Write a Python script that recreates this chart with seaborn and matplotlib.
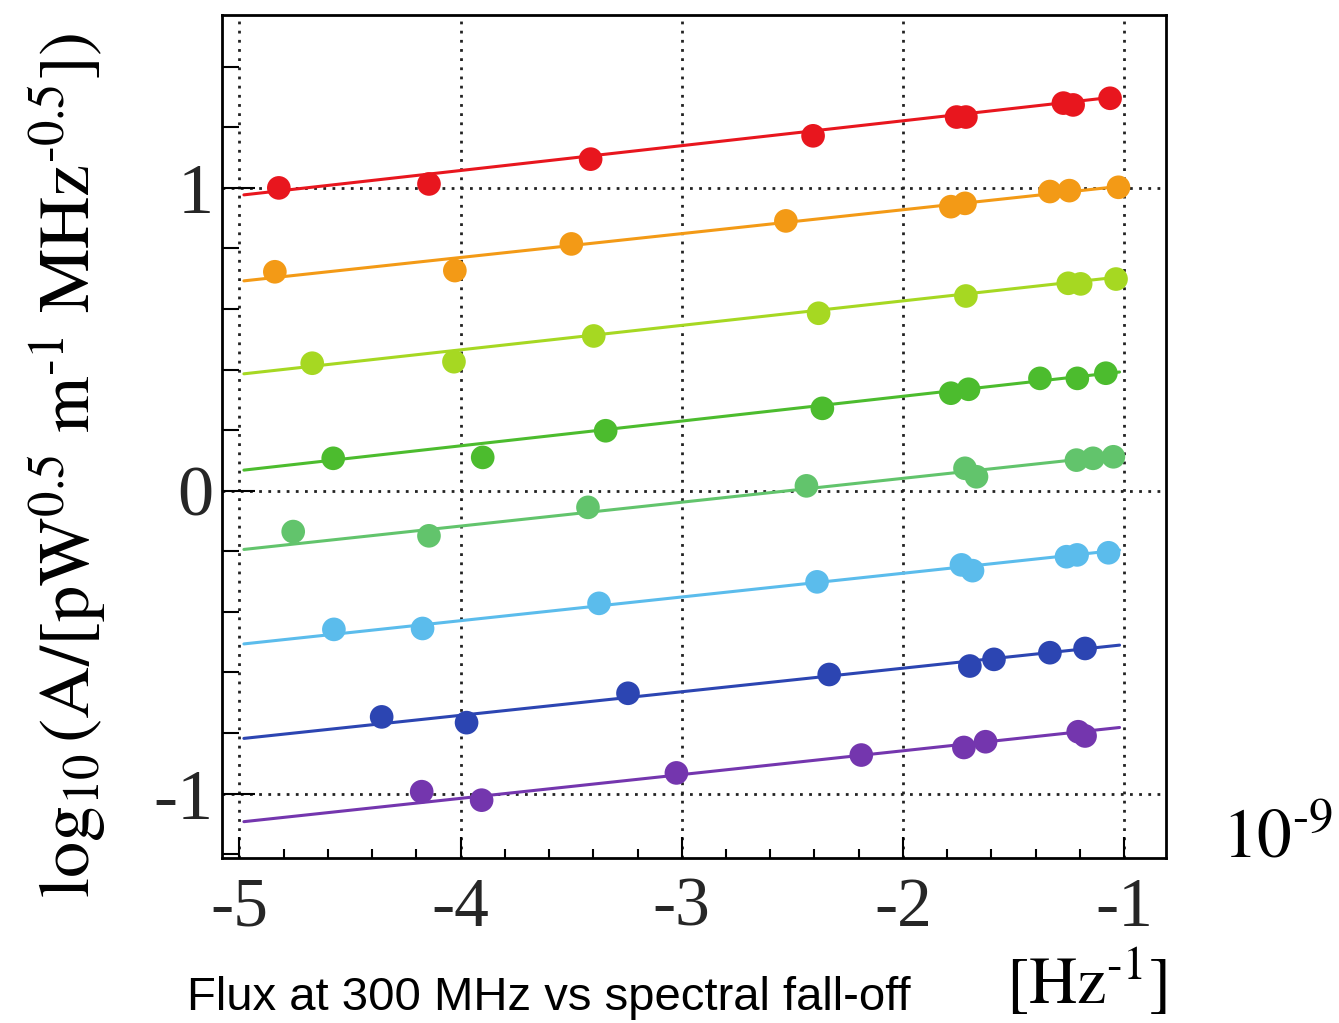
import numpy as np
import pandas as pd
import matplotlib
matplotlib.use("Agg")
import matplotlib.pyplot as plt
from matplotlib.ticker import MultipleLocator, FixedLocator
import seaborn as sns

# ---------------- data ----------------
series_names = ["red", "orange", "lime", "green", "mint", "sky", "navy", "purple"]
series_colors = ["#e8161e", "#f39a16", "#a6d822", "#4cbc2e", "#62c46c", "#5bbcec", "#2c45b2", "#7436ae"]

x_red = [-4.822, -4.143, -3.412, -2.406, -1.757, -1.715, -1.274, -1.230, -1.063]
y_red = [1.000, 1.013, 1.095, 1.172, 1.234, 1.234, 1.280, 1.274, 1.296]

x_orange = [-4.840, -4.026, -3.499, -2.529, -1.783, -1.719, -1.335, -1.247, -1.025]
y_orange = [0.723, 0.727, 0.815, 0.891, 0.938, 0.949, 0.988, 0.991, 1.002]

x_lime = [-4.671, -4.030, -3.398, -2.381, -1.715, -1.252, -1.196, -1.036]
y_lime = [0.421, 0.426, 0.511, 0.586, 0.643, 0.685, 0.683, 0.699]

x_green = [-4.576, -3.900, -3.344, -2.364, -1.783, -1.703, -1.380, -1.211, -1.082]
y_green = [0.107, 0.110, 0.198, 0.272, 0.322, 0.335, 0.371, 0.371, 0.388]

x_mint = [-4.757, -4.143, -3.424, -2.436, -1.719, -1.667, -1.215, -1.140, -1.048]
y_mint = [-0.135, -0.149, -0.055, 0.016, 0.074, 0.046, 0.101, 0.107, 0.112]

x_sky = [-4.573, -4.172, -3.374, -2.388, -1.735, -1.685, -1.260, -1.212, -1.070]
y_sky = [-0.458, -0.455, -0.372, -0.301, -0.245, -0.264, -0.218, -0.212, -0.205]

x_navy = [-4.357, -3.973, -3.243, -2.333, -1.697, -1.588, -1.335, -1.176]
y_navy = [-0.747, -0.766, -0.669, -0.607, -0.579, -0.557, -0.535, -0.521]

x_purple = [-4.176, -3.905, -3.024, -2.188, -1.724, -1.626, -1.207, -1.176]
y_purple = [-0.994, -1.022, -0.932, -0.873, -0.848, -0.829, -0.796, -0.810]

# fitted straight lines: values at the two ends
fit_x = [-4.98, -1.02]
fit_left = [0.977, 0.693, 0.386, 0.068, -0.194, -0.506, -0.818, -1.093]
fit_right = [1.302, 1.005, 0.706, 0.392, 0.118, -0.196, -0.510, -0.782]

x_ticks = [-5, -4, -3, -2, -1]
x_ticklabels = ["-5", "-4", "-3", "-2", "-1"]
y_ticks = [-1, 0, 1]
y_ticklabels = ["-1", "0", "1"]

xlabel_text = "Flux at 300 MHz vs spectral fall-off"
ylabel_text = r"$\log_{10}(\mathrm{A/[pW^{0.5}\ m^{\text{-}1}\ MHz^{\text{-}0.5}]})$"
xunit_text = r"$[\mathrm{Hz}^{\text{-}1}]$"
xexp_text = r"$10^{\text{-}9}$"

# ---------------- build tables ----------------
xs = [x_red, x_orange, x_lime, x_green, x_mint, x_sky, x_navy, x_purple]
ys = [y_red, y_orange, y_lime, y_green, y_mint, y_sky, y_navy, y_purple]
pts = pd.concat([pd.DataFrame({"x": x, "y": y, "series": n})
                 for n, x, y in zip(series_names, xs, ys)], ignore_index=True)
fits = pd.concat([pd.DataFrame({"x": fit_x, "y": [l, r], "series": n})
                  for n, l, r in zip(series_names, fit_left, fit_right)], ignore_index=True)
palette = dict(zip(series_names, series_colors))

# ---------------- style ----------------
sns.set_theme(style="white")
plt.rcParams["font.family"] = ["Liberation Serif", "DejaVu Serif"]
plt.rcParams["mathtext.fontset"] = "stix"
plt.rcParams["axes.unicode_minus"] = False

W, H = 1339, 1023
fig = plt.figure(figsize=(W / 100, H / 100), dpi=100)
fig.patch.set_facecolor("white")
L, R, T, B = 222, 1166, 15, 858
ax = fig.add_axes([L / W, 1 - B / H, (R - L) / W, (B - T) / H])
ax.set_facecolor("white")

sns.lineplot(data=fits, x="x", y="y", hue="series", palette=palette,
             estimator=None, sort=False, linewidth=2.2, legend=False, ax=ax, zorder=2)
sns.scatterplot(data=pts, x="x", y="y", hue="series", palette=palette,
                s=290, linewidth=0, edgecolor="none", legend=False, ax=ax, zorder=3)

ax.set_xlim(-5.079, -0.81)
ax.set_ylim(-1.213, 1.571)
ax.set_xlabel("")
ax.set_ylabel("")

ax.xaxis.set_major_locator(FixedLocator(x_ticks))
ax.set_xticklabels(x_ticklabels)
ax.yaxis.set_major_locator(FixedLocator(y_ticks))
ax.set_yticklabels(y_ticklabels)
ax.xaxis.set_minor_locator(MultipleLocator(0.2))
ax.yaxis.set_minor_locator(MultipleLocator(0.2))

ax.tick_params(axis="both", which="both", direction="in", top=False, right=False,
               left=True, bottom=True, color="black", width=1.5)
ax.tick_params(axis="x", which="major", length=15, labelsize=50, pad=14)
ax.tick_params(axis="x", which="minor", length=6.5)
ax.tick_params(axis="y", which="major", length=24, labelsize=52, pad=6)
ax.tick_params(axis="y", which="minor", length=12)

ax.grid(True, which="major", color="#222222", linestyle=(0, (1, 2.3)), linewidth=2.0)
ax.set_axisbelow(True)
for s in ax.spines.values():
    s.set_visible(True)
    s.set_color("black")
    s.set_linewidth(2.0)

# texts
fig.text(549 / W, 1 - 1010 / H, xlabel_text, family=["Liberation Sans", "DejaVu Sans"],
         fontsize=34, ha="center", va="baseline", color="black")
fig.text(68 / W, 1 - 465 / H, ylabel_text, rotation=90, fontsize=52,
         ha="center", va="center", color="black")
fig.text(1167 / W, 1 - 1004 / H, xunit_text, fontsize=48, ha="right", va="baseline", color="black")
fig.text(1222 / W, 1 - 858 / H, xexp_text, fontsize=50, ha="left", va="baseline", color="black")

fig.savefig("out.png", dpi=100, facecolor="white")
